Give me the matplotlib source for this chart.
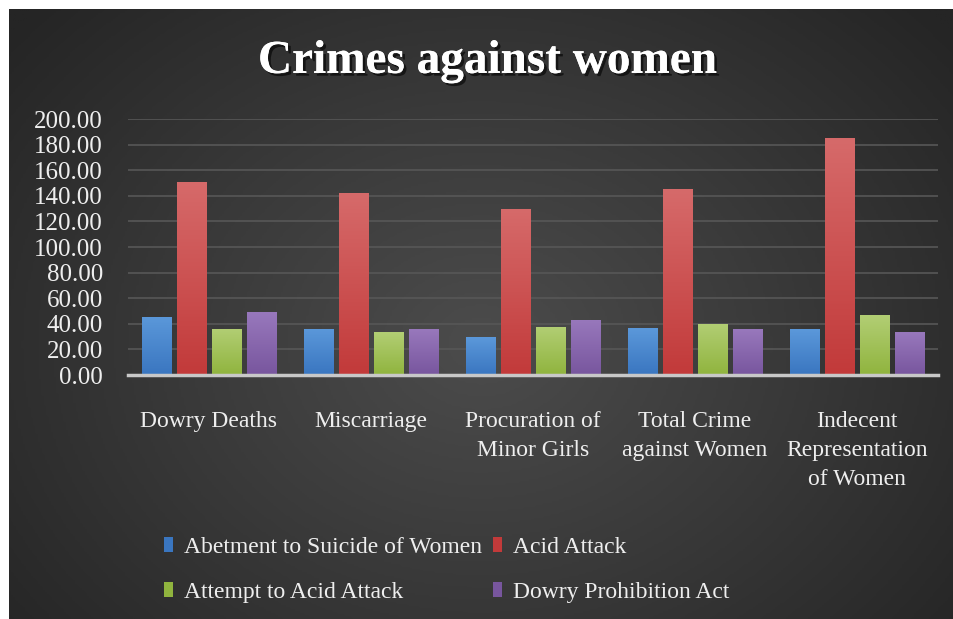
import numpy as np
import matplotlib.pyplot as plt
from matplotlib.patches import Patch
from matplotlib.colors import LinearSegmentedColormap
import matplotlib.patheffects as pe

plt.rcParams["font.family"] = ["Liberation Serif", "DejaVu Serif"]

categories = ["Dowry Deaths", "Miscarriage", "Procuration of\nMinor Girls",
              "Total Crime\nagainst Women", "Indecent\nRepresentation\nof Women"]
series_names = ["Abetment to Suicide of Women", "Acid Attack",
                "Attempt to Acid Attack", "Dowry Prohibition Act"]
abetment = [45.6, 36.0, 29.4, 36.7, 35.6]
acid_attack = [151.0, 142.0, 130.0, 145.3, 185.4]
attempt_acid = [36.0, 33.3, 37.8, 40.0, 46.6]
dowry_act = [49.0, 35.6, 43.2, 35.6, 33.3]
yticks = [0, 20, 40, 60, 80, 100, 120, 140, 160, 180, 200]

values = [abetment, acid_attack, attempt_acid, dowry_act]
top_colors = ["#5b98da", "#d66a6a", "#b2ce74", "#9878bc"]
bot_colors = ["#3a76c0", "#c23a3a", "#90b43e", "#78569e"]

fig = plt.figure(figsize=(9.54, 6.19), dpi=100)
fig.patch.set_facecolor("white")

# dark radial background panel
bg = fig.add_axes([9 / 954, 0, 1 - 9 / 954, 1 - 9 / 619])
yy, xx = np.mgrid[0:1:300j, 0:1:400j]
r = np.sqrt(((xx - 0.5) / 0.65) ** 2 + ((yy - 0.55) / 0.8) ** 2)
bg_cmap = LinearSegmentedColormap.from_list("bg", ["#4c4c4c", "#393939", "#252525"])
bg.imshow(np.clip(r, 0, 1), cmap=bg_cmap, aspect="auto", extent=[0, 1, 0, 1],
          vmin=0, vmax=1)
bg.axis("off")

ax = fig.add_axes([128 / 954, 244 / 619, 810 / 954, 256 / 619])
ax.set_facecolor("none")

x = np.arange(len(categories))
pitch = 0.217
width = 0.18
offsets = (np.arange(4) - 1.5) * pitch

for vals, off, c1, c2 in zip(values, offsets, top_colors, bot_colors):
    bars = ax.bar(x + off, vals, width, color=c2, zorder=3)
    cmap = LinearSegmentedColormap.from_list("g", [c2, c1])
    for b in bars:
        grad = np.linspace(0, 1, 100).reshape(-1, 1)
        im = ax.imshow(grad, cmap=cmap, aspect="auto", origin="lower",
                       extent=[b.get_x(), b.get_x() + b.get_width(), 0, b.get_height()],
                       zorder=4)
        im.set_clip_path(b)

ax.set_xlim(-0.5, 4.5)
ax.set_ylim(0, 200)
ax.set_yticks(yticks)
ax.set_yticklabels([f"{v:.2f}" for v in yticks], fontsize=18)
ax.set_xticks(x)
ax.set_xticklabels(categories, linespacing=1.5, fontsize=17)
ax.grid(axis="y", color="#575757", linewidth=1.2, zorder=0)
for s in ["top", "right", "left"]:
    ax.spines[s].set_visible(False)
ax.spines["bottom"].set_color("#c8c8c8")
ax.spines["bottom"].set_linewidth(2.5)
ax.spines["bottom"].set_zorder(5)
ax.tick_params(axis="both", length=0, colors="#eeeeee")
ax.tick_params(axis="x", pad=26)
ax.tick_params(axis="y", pad=18)

fig.text(0.511, 0.9, "Crimes against women", ha="center", va="center",
         fontsize=34, fontweight="bold", color="white",
         path_effects=[pe.withSimplePatchShadow(offset=(2, -2), shadow_rgbFace="black", alpha=0.6),
                       pe.Normal()])

handles = [Patch(facecolor=c) for c in bot_colors]
order = [0, 2, 1, 3]
leg = fig.legend([handles[i] for i in order], [series_names[i] for i in order],
                 ncol=2, loc="upper left", bbox_to_anchor=(164 / 954, 1 - 537 / 619),
                 frameon=False, fontsize=17, handlelength=0.4, handleheight=0.6,
                 handletextpad=0.45, columnspacing=0.45, labelspacing=1.0,
                 borderpad=0, borderaxespad=0)
for t in leg.get_texts():
    t.set_color("#eeeeee")

fig.savefig("out.png", dpi=100, facecolor=fig.get_facecolor())
